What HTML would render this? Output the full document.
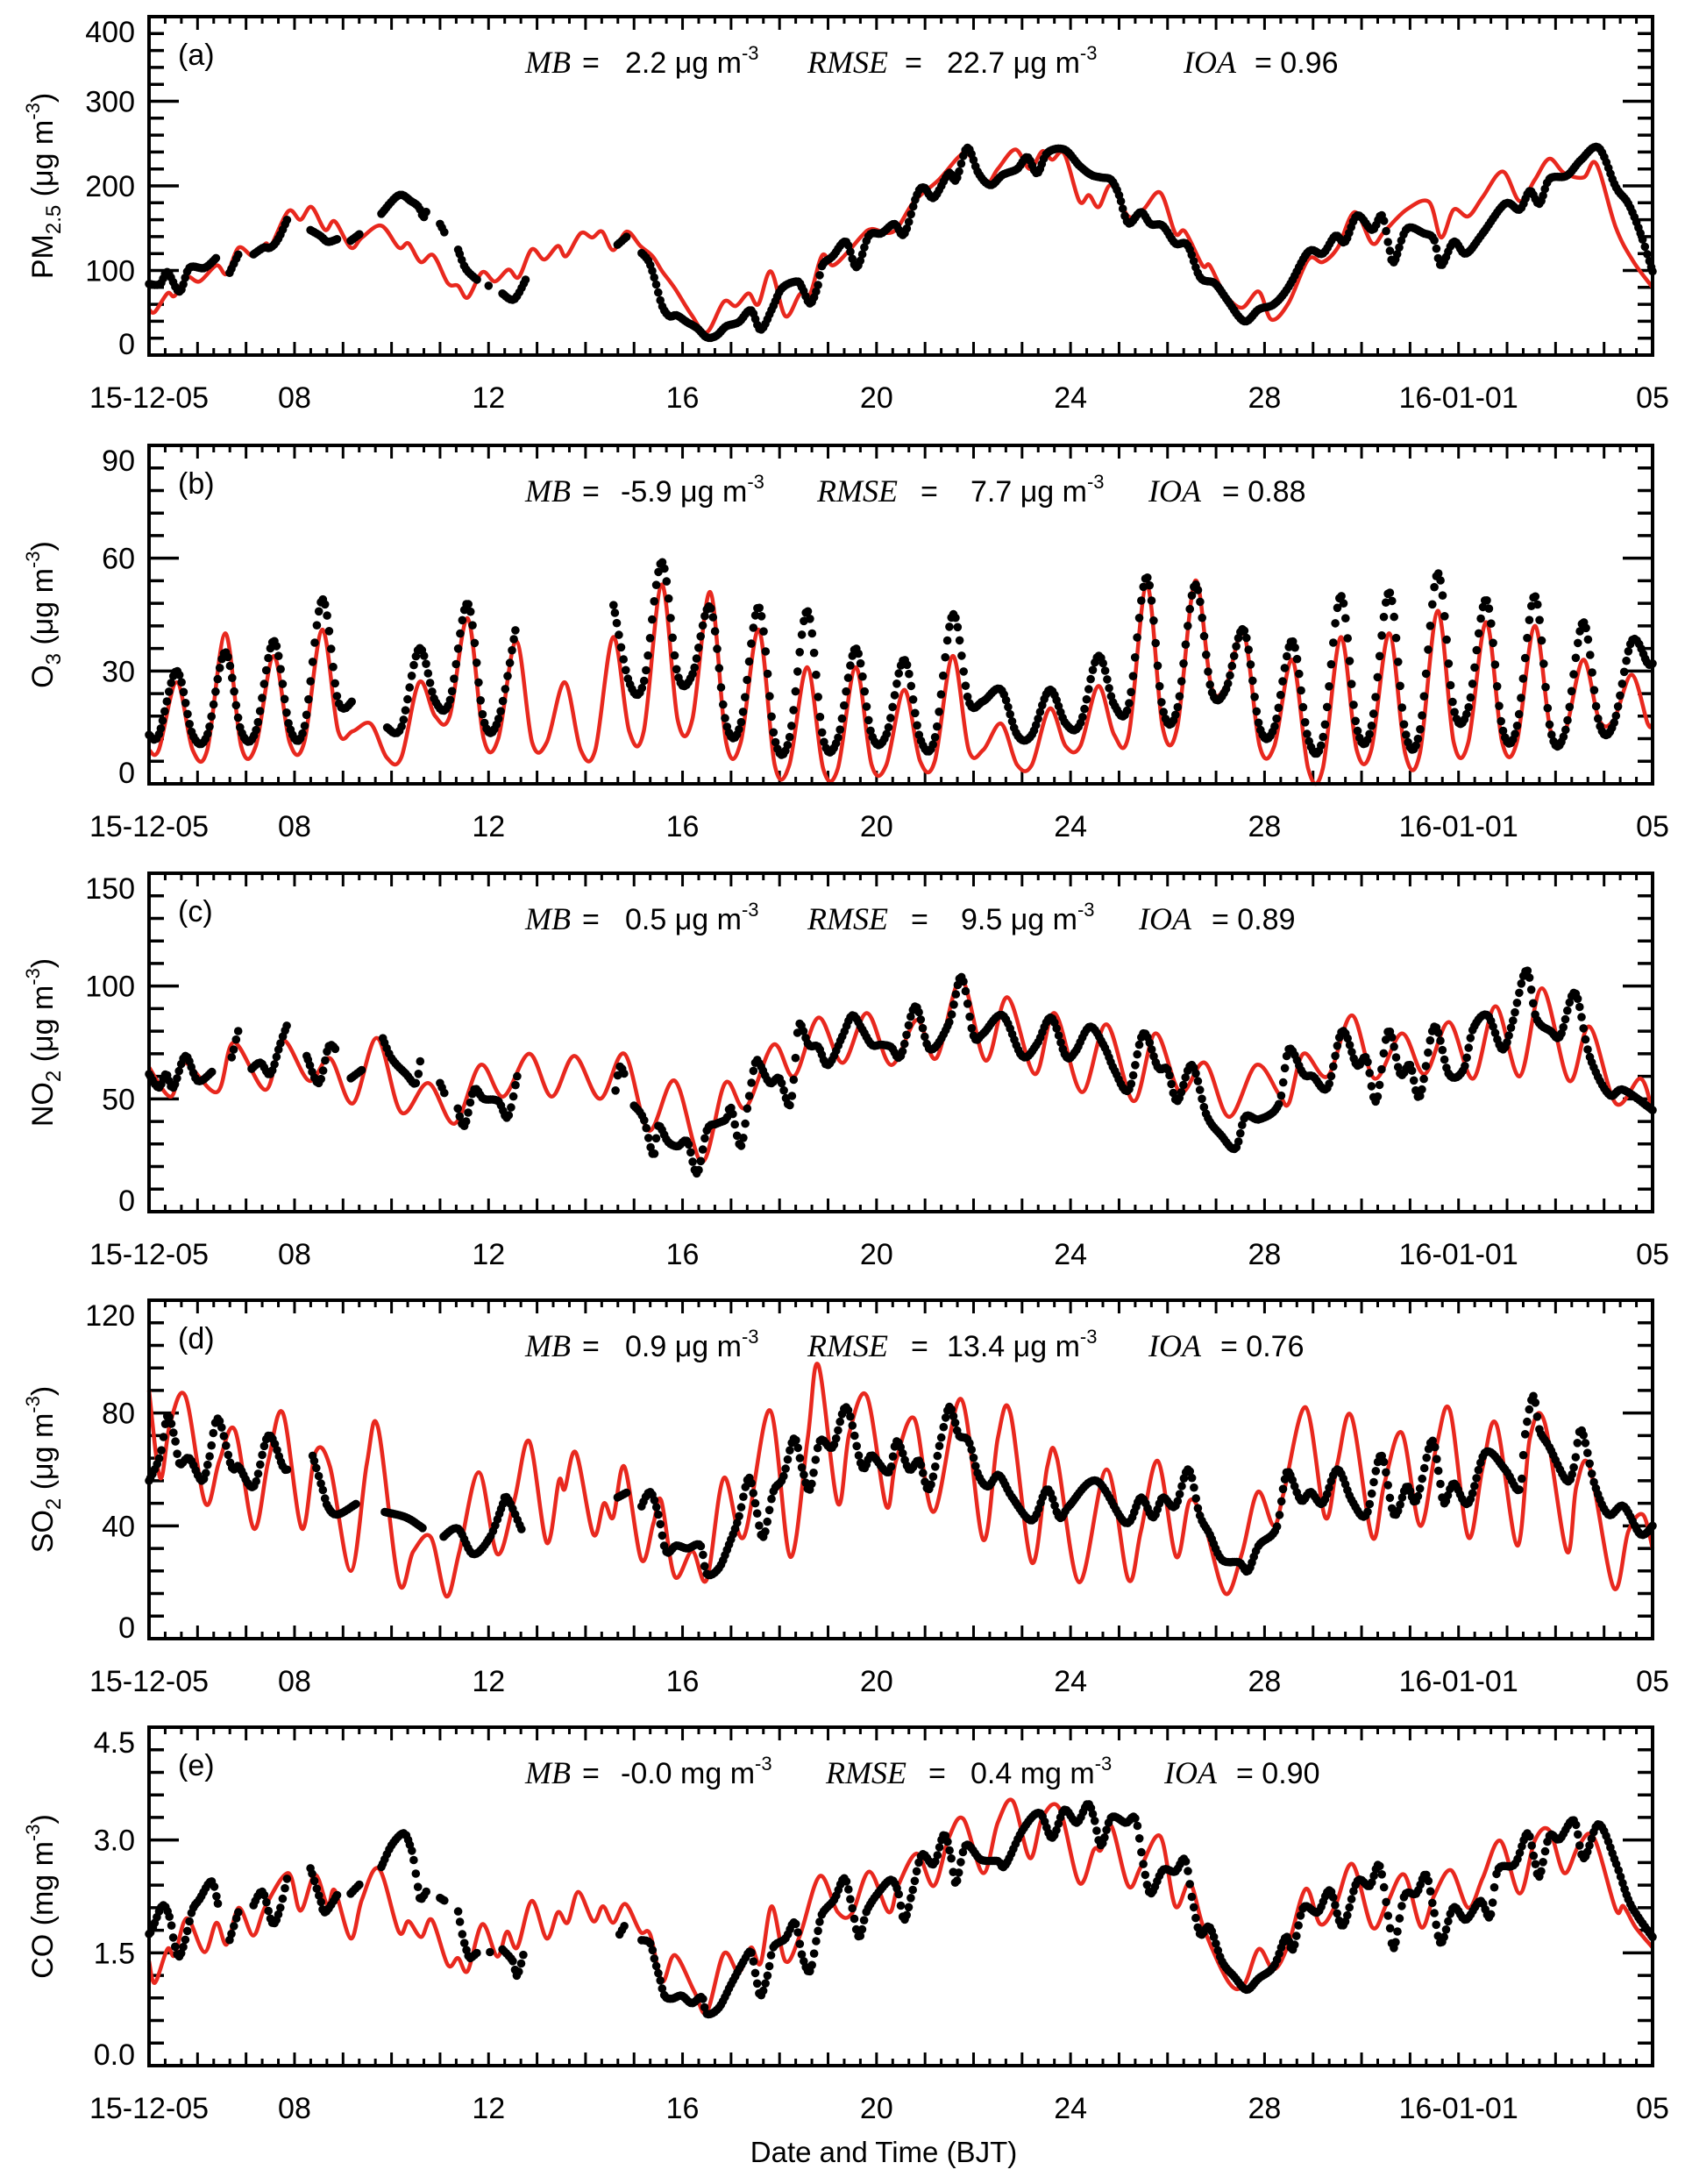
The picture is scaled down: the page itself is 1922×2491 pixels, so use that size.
<!DOCTYPE html>
<html>
<head>
<meta charset="utf-8">
<style>
  html,body{margin:0;padding:0;background:#fff;}
  svg{display:block;}
  text{font-family:"Liberation Sans",Arial,sans-serif;fill:#000;}
  .it{font-family:"Liberation Serif","Times New Roman",serif;font-style:italic;}
</style>
</head>
<body>
<svg id="chart" xmlns="http://www.w3.org/2000/svg" width="1922" height="2491" viewBox="0 0 1922 2491">
  <rect x="0" y="0" width="1922" height="2491" fill="#fff"/>
  <text x="1008" y="2466" font-size="33" text-anchor="middle">Date and Time (BJT)</text>
</svg>
<script>
// ---------------- data ----------------
const xTickLabels = ["15-12-05","08","12","16","20","24","28","16-01-01","05"];
const xTickDays = [0,3,7,11,15,19,23,27,31];

const pmModel = [[0,54],[0.12,51],[0.38,73],[0.53,70],[0.78,92],[1.04,87],[1.39,106],[1.6,96],[1.85,127],[2.15,117],[2.41,132],[2.5,127],[2.87,170],[3.12,160],[3.35,175],[3.63,148],[3.83,158],[4.16,127],[4.39,139],[4.79,153],[5.15,127],[5.35,132],[5.6,110],[5.86,118],[6.16,85],[6.37,82],[6.57,68],[6.87,98],[7.13,87],[7.41,101],[7.62,92],[7.89,125],[8.15,113],[8.43,129],[8.6,117],[8.9,144],[9.14,139],[9.34,146],[9.57,124],[9.85,146],[10.13,129],[10.38,117],[10.58,99],[10.84,79],[11.19,47],[11.5,27],[11.85,63],[12.1,58],[12.36,73],[12.56,60],[12.82,99],[13.12,46],[13.42,72],[13.63,72],[13.88,118],[14.1,106],[14.44,124],[14.7,141],[14.9,149],[15.35,146],[15.78,182],[16.28,207],[16.69,234],[16.89,238],[17.25,203],[17.5,220],[17.86,243],[18.16,220],[18.42,241],[18.62,231],[18.87,238],[19.18,182],[19.38,189],[19.58,175],[19.84,201],[20.19,164],[20.5,172],[20.85,192],[21.16,144],[21.36,146],[21.72,106],[21.87,106],[22.17,73],[22.53,56],[22.88,75],[23.14,42],[23.49,61],[23.9,113],[24.2,110],[24.51,127],[24.86,169],[25.22,132],[25.47,146],[25.93,172],[26.39,181],[26.64,139],[26.9,172],[27.2,164],[27.5,187],[27.91,217],[28.26,182],[28.57,207],[28.87,232],[29.18,215],[29.58,210],[29.84,226],[30.24,151],[30.6,111],[31,80]];
const pmObs = [[0,84],[0.23,84],[0.38,98],[0.63,75],[0.83,103],[1.14,103],[1.39,115],[1.5,null],[1.65,96],[1.85,120],[1.98,null],[2.13,118],[2.36,127],[2.5,127],[2.66,137],[2.87,163],[3.1,null],[3.32,148],[3.53,141],[3.68,134],[3.88,137],[4.0,null],[4.13,134],[4.34,143],[4.55,null],[4.79,167],[5.15,189],[5.4,182],[5.56,175],[5.66,163],[5.73,172],[5.85,null],[6.0,155],[6.1,144],[6.22,null],[6.37,125],[6.52,103],[6.72,91],[6.78,89],[6.9,null],[7.0,82],[7.1,null],[7.28,73],[7.53,66],[7.79,92],[7.9,null],[9.65,130],[9.87,141],[9.95,null],[10.13,122],[10.3,111],[10.43,89],[10.58,58],[10.73,46],[10.88,47],[11.09,39],[11.3,32],[11.5,21],[11.7,23],[11.9,34],[12.16,39],[12.41,53],[12.61,30],[12.84,54],[13.05,79],[13.36,87],[13.47,79],[13.63,61],[13.78,80],[13.88,106],[14.1,117],[14.37,134],[14.59,104],[14.84,141],[15.1,144],[15.37,155],[15.57,143],[15.83,189],[15.98,198],[16.18,186],[16.49,215],[16.64,207],[16.87,245],[17.1,215],[17.35,201],[17.6,213],[17.9,220],[18.11,234],[18.31,215],[18.52,239],[18.87,243],[19.18,224],[19.43,213],[19.63,210],[19.84,207],[20.0,189],[20.19,156],[20.45,169],[20.65,155],[20.9,153],[21.16,132],[21.41,130],[21.67,92],[21.97,85],[22.22,66],[22.58,40],[22.88,54],[23.19,60],[23.49,80],[23.9,122],[24.2,120],[24.46,141],[24.66,134],[24.91,165],[25.22,148],[25.42,165],[25.57,127],[25.67,110],[25.93,149],[26.28,144],[26.49,137],[26.64,106],[26.9,134],[27.15,120],[27.5,144],[27.96,179],[28.26,172],[28.47,194],[28.67,179],[28.87,208],[29.23,212],[29.53,231],[29.89,245],[30.24,199],[30.5,179],[30.75,144],[31,99]];

const o3ModelPeak = [27,40,34,41,16,27,44,38,27,39,53,51,41,31,31,25,34,16,20,26,53,54,40,33,39,40,46,43,42,33,29];
const o3ModelLow  = [9,9,10,11,14,7,18,12,11,9,14,17,11,5,4,5,6,9,5,10,13,15,26,10,4,9,8,11,11,14,17];
const o3ModelEnd = 16;
const o3ObsPeak = [30,35,38,49,null,36,48,42,null,48,59,47,47,46,36,33,45,25,25,34,55,53,41,38,50,51,56,49,50,43,38];
const o3ObsLow  = [13,13,14,15,22,15,22,17,null,null,27,29,16,12,12,13,12,22,13,16,21,20,25,15,12,15,14,20,15,14,16];
const o3ObsEnd = 32;

const no2Model = [[0,64],[0.45,51],[0.73,66],[1.4,53],[1.75,75],[2.4,54],[2.76,76],[3.3,58],[3.73,68],[4.2,48],[4.7,77],[5.2,44],[5.76,57],[6.3,39],[6.83,65],[7.3,51],[7.84,70],[8.3,51],[8.77,69],[9.3,50],[9.8,70],[10.3,36],[10.84,58],[11.4,22],[11.88,57],[12.3,46],[12.87,74],[13.3,60],[13.8,86],[14.3,66],[14.8,88],[15.3,65],[15.83,85],[16.23,68],[16.74,103],[17.25,67],[17.7,95],[18.26,61],[18.67,88],[19.23,53],[19.74,83],[20.3,49],[20.75,79],[21.26,53],[21.77,66],[22.27,42],[22.83,65],[23.3,52],[23.5,48],[23.8,70],[24.3,60],[24.8,87],[25.27,59],[25.83,79],[26.3,61],[26.8,84],[27.3,59],[27.76,91],[28.26,60],[28.72,99],[29.28,58],[29.7,82],[30.24,48],[30.75,59],[31,44]];
const no2Obs = [[0,61],[0.2,55],[0.35,61],[0.5,55],[0.75,69],[1.0,58],[1.3,62],[1.45,null],[1.7,68],[1.85,81],[1.95,null],[2.1,63],[2.3,66],[2.5,61],[2.7,74],[2.85,83],[3.0,null],[3.25,69],[3.5,57],[3.7,73],[3.85,72],[4.0,null],[4.15,59],[4.4,63],[4.6,null],[4.8,78],[5.0,68],[5.3,61],[5.5,57],[5.6,68],[5.8,null],[6.0,57],[6.1,52],[6.2,null],[6.35,47],[6.5,38],[6.7,54],[6.9,50],[7.2,49],[7.4,42],[7.6,61],[7.7,null],[9.6,51],[9.7,64],[9.8,61],[9.9,null],[10.0,47],[10.2,41],[10.4,25],[10.5,38],[10.7,31],[10.9,29],[11.1,31],[11.3,17],[11.5,36],[11.7,39],[11.9,41],[12.0,46],[12.2,29],[12.35,48],[12.5,66],[12.6,65],[12.8,57],[13.0,59],[13.2,47],[13.3,60],[13.4,83],[13.6,74],[13.8,73],[14.0,65],[14.3,78],[14.5,87],[14.7,81],[14.9,74],[15.1,74],[15.3,73],[15.5,69],[15.8,91],[16.1,72],[16.5,84],[16.75,104],[17.0,78],[17.2,79],[17.6,87],[18.0,69],[18.3,74],[18.6,86],[18.9,69],[19.1,71],[19.4,82],[19.7,73],[19.9,63],[20.2,54],[20.5,79],[20.8,64],[21.0,63],[21.2,49],[21.5,65],[21.8,43],[22.1,34],[22.4,28],[22.6,42],[22.9,41],[23.3,48],[23.5,72],[23.8,61],[24.0,60],[24.3,55],[24.6,80],[24.9,65],[25.1,68],[25.3,49],[25.55,80],[25.8,61],[26.0,65],[26.2,51],[26.5,82],[26.8,61],[27.1,63],[27.3,81],[27.6,87],[27.9,72],[28.1,83],[28.4,107],[28.6,86],[28.9,80],[29.1,78],[29.4,97],[29.7,69],[30.1,52],[30.4,54],[31,45]];

const so2Model = [[0,88],[0.23,57],[0.43,76],[0.75,86],[1.16,48],[1.45,63],[1.77,74],[2.16,39],[2.46,63],[2.76,80],[3.15,39],[3.43,66],[3.73,61],[4.16,24],[4.49,62],[4.72,75],[5.15,20],[5.45,31],[5.81,36],[6.13,15],[6.4,31],[6.8,59],[7.18,30],[7.53,49],[7.84,70],[8.2,34],[8.45,56],[8.57,53],[8.8,66],[9.16,37],[9.38,48],[9.57,43],[9.8,61],[10.15,28],[10.4,41],[10.56,49],[10.84,22],[11.2,31],[11.5,21],[11.85,57],[12.26,36],[12.8,81],[13.22,29],[13.58,71],[13.8,97],[14.2,48],[14.44,73],[14.8,86],[15.2,47],[15.4,63],[15.78,78],[16.18,45],[16.74,85],[17.2,35],[17.5,71],[17.76,80],[18.2,27],[18.52,61],[18.72,64],[19.18,20],[19.74,60],[20.19,21],[20.45,38],[20.8,63],[21.18,29],[21.46,49],[21.77,40],[22.19,16],[22.53,30],[22.86,52],[23.19,40],[23.4,52],[23.85,82],[24.25,43],[24.5,62],[24.79,79],[25.22,36],[25.47,55],[25.83,73],[26.21,40],[26.54,68],[26.82,81],[27.2,36],[27.5,61],[27.78,76],[28.21,33],[28.47,71],[28.77,77],[29.23,31],[29.43,54],[29.7,61],[30.2,18],[30.5,38],[30.8,44],[31,32]];
const so2Obs = [[0,56],[0.23,65],[0.38,79],[0.53,71],[0.63,62],[0.83,64],[1.09,56],[1.24,64],[1.42,78],[1.7,61],[1.85,61],[2.16,54],[2.46,72],[2.76,61],[2.86,60],[3.0,null],[3.37,65],[3.58,53],[3.68,47],[3.88,44],[4.29,48],[4.5,null],[4.84,45],[5.3,43],[5.66,39],[5.85,null],[6.06,36],[6.37,39],[6.68,30],[7.03,36],[7.28,47],[7.38,50],[7.7,38],[7.8,null],[9.65,50],[9.87,52],[9.95,null],[10.13,46],[10.33,52],[10.5,44],[10.66,31],[10.87,33],[11.1,32],[11.37,33],[11.5,23],[11.75,25],[11.95,33],[12.16,43],[12.36,57],[12.5,48],[12.66,36],[12.87,52],[13.07,57],[13.3,71],[13.47,60],[13.63,53],[13.83,70],[14.1,68],[14.38,82],[14.7,61],[14.9,65],[15.25,59],[15.42,70],[15.67,60],[15.88,63],[16.08,53],[16.33,71],[16.49,82],[16.6,78],[16.7,72],[16.9,70],[17.1,58],[17.3,54],[17.52,58],[17.8,50],[18.21,42],[18.52,53],[18.77,43],[18.97,47],[19.53,56],[20.14,41],[20.45,50],[20.7,43],[20.9,50],[21.16,47],[21.43,60],[21.66,44],[21.87,37],[22.12,28],[22.48,27],[22.66,24],[22.88,33],[23.24,39],[23.4,55],[23.5,59],[23.75,49],[23.95,52],[24.2,48],[24.5,60],[24.8,49],[25.1,44],[25.4,65],[25.67,44],[25.93,54],[26.13,49],[26.44,70],[26.59,59],[26.7,48],[26.9,55],[27.2,48],[27.55,66],[27.96,60],[28.26,53],[28.37,72],[28.54,86],[28.67,74],[28.87,68],[29.23,56],[29.38,61],[29.53,74],[29.8,55],[30.09,44],[30.4,47],[30.75,37],[31,40]];

const coModel = [[0,1.39],[0.12,1.10],[0.38,1.55],[0.53,1.47],[0.78,1.96],[1.14,1.51],[1.39,1.90],[1.6,1.61],[1.85,2.10],[2.15,1.73],[2.4,2.12],[2.87,2.56],[3.12,2.06],[3.42,2.54],[3.68,2.13],[3.83,2.33],[4.16,1.69],[4.39,2.21],[4.74,2.62],[5.15,1.78],[5.35,1.92],[5.61,1.71],[5.83,1.94],[6.16,1.34],[6.37,1.43],[6.57,1.26],[6.87,1.88],[7.18,1.45],[7.38,1.78],[7.59,1.57],[7.89,2.19],[8.2,1.69],[8.43,2.04],[8.63,1.90],[8.85,2.31],[9.16,1.92],[9.36,2.12],[9.57,1.90],[9.82,2.15],[10.13,1.78],[10.33,1.75],[10.58,1.12],[10.84,1.47],[11.24,0.99],[11.5,0.71],[11.85,1.49],[12.16,1.24],[12.41,1.57],[12.61,1.36],[12.84,2.12],[13.12,1.39],[13.42,1.73],[13.83,2.52],[14.2,2.04],[14.49,2.02],[14.85,2.58],[15.25,2.04],[15.45,2.4],[15.83,2.82],[16.18,2.39],[16.49,3.03],[16.79,3.28],[17.2,2.56],[17.5,3.23],[17.81,3.52],[18.16,2.76],[18.42,3.30],[18.77,3.42],[19.18,2.43],[19.48,2.87],[19.63,2.87],[19.84,3.19],[20.19,2.39],[20.45,2.64],[20.85,3.05],[21.16,2.12],[21.46,2.43],[21.75,1.82],[22.27,1.10],[22.58,1.08],[22.88,1.55],[23.19,1.28],[23.49,1.61],[23.85,2.35],[24.15,1.88],[24.46,2.13],[24.81,2.68],[25.22,1.84],[25.52,2.15],[25.88,2.54],[26.23,1.84],[26.49,2.25],[26.84,2.60],[27.2,2.10],[27.5,2.50],[27.86,2.99],[28.26,2.29],[28.57,2.99],[28.87,3.13],[29.18,2.56],[29.48,2.93],[29.79,3.03],[30.24,2.08],[30.4,2.12],[30.65,1.84],[31,1.57]];
const coObs = [[0,1.75],[0.07,1.82],[0.28,2.13],[0.43,1.96],[0.51,1.67],[0.61,1.45],[0.73,1.63],[0.89,2.06],[1.04,2.21],[1.29,2.45],[1.42,2.15],[1.52,null],[1.65,1.65],[1.85,2.06],[1.98,null],[2.13,2.10],[2.34,2.31],[2.54,1.90],[2.69,2.06],[2.87,2.56],[3.1,null],[3.32,2.64],[3.53,2.21],[3.63,2.04],[3.88,2.27],[4.0,null],[4.13,2.27],[4.34,2.41],[4.55,null],[4.79,2.64],[5.0,2.93],[5.25,3.09],[5.38,2.93],[5.45,2.76],[5.55,2.35],[5.6,2.21],[5.73,2.33],[5.85,null],[6.0,2.23],[6.1,2.19],[6.22,null],[6.37,2.06],[6.47,1.71],[6.57,1.49],[6.62,1.43],[6.78,1.51],[6.9,null],[7.03,1.51],[7.1,null],[7.28,1.55],[7.5,1.39],[7.59,1.20],[7.74,1.53],[7.85,null],[9.67,1.71],[9.82,1.88],[9.95,null],[10.13,1.67],[10.33,1.63],[10.43,1.39],[10.53,1.16],[10.63,0.93],[10.78,0.89],[10.98,0.93],[11.19,0.83],[11.4,0.91],[11.5,0.69],[11.75,0.77],[12.0,1.08],[12.26,1.39],[12.41,1.51],[12.51,1.20],[12.61,0.93],[12.76,1.22],[12.87,1.57],[13.12,1.69],[13.32,1.90],[13.47,1.45],[13.63,1.26],[13.78,1.75],[13.88,2.02],[14.13,2.21],[14.34,2.49],[14.49,2.12],[14.64,1.71],[14.8,2.06],[15.05,2.31],[15.3,2.47],[15.45,2.3],[15.57,1.94],[15.73,2.29],[15.93,2.80],[16.18,2.68],[16.39,3.07],[16.54,2.76],[16.64,2.43],[16.84,2.93],[17.15,2.74],[17.5,2.72],[17.65,2.66],[18.01,3.13],[18.36,3.36],[18.62,3.03],[18.87,3.40],[19.13,3.23],[19.35,3.48],[19.48,3.30],[19.63,2.93],[19.84,3.30],[20.14,3.23],[20.34,3.28],[20.5,2.68],[20.65,2.29],[20.9,2.60],[21.16,2.58],[21.36,2.74],[21.51,2.21],[21.67,1.75],[21.87,1.84],[22.12,1.39],[22.38,1.18],[22.63,1.01],[22.88,1.16],[23.19,1.32],[23.44,1.71],[23.59,1.55],[23.8,2.10],[24.1,2.04],[24.35,2.33],[24.61,1.86],[24.91,2.45],[25.17,2.39],[25.37,2.66],[25.57,1.90],[25.67,1.57],[25.88,2.25],[26.13,2.29],[26.33,2.54],[26.49,2.06],[26.64,1.63],[26.89,2.10],[27.15,1.94],[27.45,2.19],[27.65,1.98],[27.81,2.60],[28.16,2.68],[28.42,3.09],[28.57,2.72],[28.67,2.52],[28.87,3.05],[29.08,3.01],[29.38,3.26],[29.58,2.76],[29.89,3.21],[30.24,2.70],[30.5,2.21],[30.7,1.98],[31,1.71]];

const statsMB   = ["2.2 \u03bcg m","-5.9 \u03bcg m","0.5 \u03bcg m","0.9 \u03bcg m","-0.0 mg m"];
const statsRMSE = ["22.7 \u03bcg m","7.7 \u03bcg m","9.5 \u03bcg m","13.4 \u03bcg m","0.4 mg m"];
const statsIOA  = ["0.96","0.88","0.89","0.76","0.90"];

// ---------------- layout ----------------
const NS = "http://www.w3.org/2000/svg";
const svg = document.getElementById("chart");
const L = 170, R = 1885, H = 386, NDAYS = 31;
function xScale(t){ return L + (R - L) * t / NDAYS; }

function mk(tag, attrs, parent){
  const e = document.createElementNS(NS, tag);
  for (const k in attrs) e.setAttribute(k, attrs[k]);
  (parent || svg).appendChild(e);
  return e;
}

function dailyKnots(lows, peaks, endVal){
  const out = [[0, lows[0]]];
  for (let d = 0; d < 31; d++){
    const nextLow = d < 30 ? lows[d+1] : endVal;
    out.push([d + 0.2, lows[d]]);
    out.push([d + 0.57, peaks[d]]);
    out.push([d + 0.9, nextLow]);
  }
  out.push([31, endVal]);
  return out;
}

function segmentsOf(pairs){
  const segs = []; let cur = [];
  for (const p of pairs){
    if (p[1] === null || p[1] === undefined){ if (cur.length) segs.push(cur); cur = []; }
    else cur.push(p);
  }
  if (cur.length) segs.push(cur);
  return segs;
}

function ctrl(pts, i){
  const p0 = pts[i-1] || pts[i], p1 = pts[i], p2 = pts[i+1], p3 = pts[i+2] || pts[i+1];
  return [p1, [p1[0] + (p2[0]-p0[0])/6, p1[1] + (p2[1]-p0[1])/6], [p2[0] - (p3[0]-p1[0])/6, p2[1] - (p3[1]-p1[1])/6], p2];
}

function smoothPath(pts){
  if (pts.length === 1) return "";
  let d = "M" + pts[0][0].toFixed(1) + "," + pts[0][1].toFixed(1);
  for (let i = 0; i < pts.length - 1; i++){
    const c = ctrl(pts, i);
    d += " C" + c[1][0].toFixed(1)+","+c[1][1].toFixed(1)+" "+c[2][0].toFixed(1)+","+c[2][1].toFixed(1)+" "+c[3][0].toFixed(1)+","+c[3][1].toFixed(1);
  }
  return d;
}

function bez(c, u){
  const a = 1-u;
  return [a*a*a*c[0][0] + 3*a*a*u*c[1][0] + 3*a*u*u*c[2][0] + u*u*u*c[3][0],
          a*a*a*c[0][1] + 3*a*a*u*c[1][1] + 3*a*u*u*c[2][1] + u*u*u*c[3][1]];
}

function hourlyDots(seg, pts){
  const out = [];
  if (pts.length === 1) return [pts[0]];
  for (let i = 0; i < pts.length - 1; i++){
    const c = ctrl(pts, i);
    const t1 = seg[i][0], t2 = seg[i+1][0];
    let h = Math.ceil(t1 * 24 - 1e-6);
    while (h / 24 < t2 - 1e-6 || (i === pts.length - 2 && h / 24 <= t2 + 1e-6)){
      const u = (h / 24 - t1) / (t2 - t1);
      if (u > 1) break;
      out.push(bez(c, Math.max(0, u)));
      h++;
    }
  }
  return out;
}

const panels = [
  {key:"pm25", letter:"(a)", top:19,   max:400, major:100, minor:20,  fmt:v=>String(v), model:pmModel, obs:pmObs,
   ylab:[["PM",0],["2.5",1],[" (\u03bcg m",0],["-3",2],[")",0]],
   pos:[599,664,713,921,1032,1080,1350,1431]},
  {key:"o3", letter:"(b)", top:508,  max:90,  major:30,  minor:6,   fmt:v=>String(v), model:dailyKnots(o3ModelLow,o3ModelPeak,o3ModelEnd), obs:dailyKnots(o3ObsLow,o3ObsPeak,o3ObsEnd),
   ylab:[["O",0],["3",1],[" (\u03bcg m",0],["-3",2],[")",0]],
   pos:[599,664,708,932,1050,1107,1310,1394]},
  {key:"no2", letter:"(c)", top:996,  max:150, major:50,  minor:10,  fmt:v=>String(v), model:no2Model, obs:no2Obs,
   ylab:[["NO",0],["2",1],[" (\u03bcg m",0],["-3",2],[")",0]],
   pos:[599,664,713,921,1039,1096,1299,1382]},
  {key:"so2", letter:"(d)", top:1483, max:120, major:40,  minor:8,   fmt:v=>String(v), model:so2Model, obs:so2Obs,
   ylab:[["SO",0],["2",1],[" (\u03bcg m",0],["-3",2],[")",0]],
   pos:[599,664,713,921,1039,1080,1310,1392]},
  {key:"co", letter:"(e)", top:1970, max:4.5, major:1.5, minor:0.3, fmt:v=>v.toFixed(1), model:coModel, obs:coObs,
   ylab:[["CO (mg m",0],["-3",2],[")",0]],
   pos:[599,664,708,942,1059,1107,1328,1410]}
];

panels.forEach((p, pi) => {
  const top = p.top, bot = top + H;
  const yScale = v => bot - H * v / p.max;
  const g = mk("g", {});
  
  

  const cp = mk("clipPath", {id: "clip" + pi}, g);
  mk("rect", {x: L - 6, y: top - 6, width: R - L + 12, height: H + 12}, cp);

  const nMinor = Math.round(p.max / p.minor);
  for (let i = 0; i <= nMinor; i++){
    const v = i * p.minor;
    const isMajor = Math.abs((v / p.major) - Math.round(v / p.major)) < 1e-6;
    const len = isMajor ? 34 : 17;
    const y = yScale(v);
    const t1 = mk("line", {x1: L, x2: L + len, y1: y, y2: y, stroke: "#000", "stroke-width": 3.5}, g);
    
    
    const t2 = mk("line", {x1: R, x2: R - len, y1: y, y2: y, stroke: "#000", "stroke-width": 3.5}, g);
    
    
    if (isMajor){
      let cy = y;
      if (i === 0) cy -= 13;
      if (i === nMinor) cy += 17;
      const lab = mk("text", {x: 154, y: cy + 12, "font-size": 34, "text-anchor": "end"}, g);
      lab.textContent = p.fmt(Math.round(v * 10) / 10);
      
      
    }
  }
  for (let k = 0; k <= NDAYS * 3; k++){
    const t = k / 3;
    const x = xScale(t);
    const len = (k % 3 === 0) ? 15 : 8;
    const b1 = mk("line", {x1: x, x2: x, y1: bot, y2: bot - len, stroke: "#000", "stroke-width": 3}, g);
    
    
    const b2 = mk("line", {x1: x, x2: x, y1: top, y2: top + len, stroke: "#000", "stroke-width": 3}, g);
    
    
  }
  xTickLabels.forEach((lbl, i) => {
    const tx = mk("text", {x: xScale(xTickDays[i]), y: bot + 60, "font-size": 34, "text-anchor": "middle"}, g);
    tx.textContent = lbl;
    
    
  });

  const mg = mk("g", {"clip-path": "url(#clip" + pi + ")"}, g);
  segmentsOf(p.model).forEach(seg => {
    const pts = seg.map(q => [xScale(q[0]), yScale(q[1])]);
    const path = mk("path", {d: smoothPath(pts), fill: "none", stroke: "#e8281e", "stroke-width": 4.5, "stroke-linejoin": "round"}, mg);
    
    
  });
  segmentsOf(p.obs).forEach(seg => {
    const pts = seg.map(q => [xScale(q[0]), yScale(q[1])]);
    const og = mk("g", {fill: "#000"}, mg);
    
    
    hourlyDots(seg, pts).forEach(pt => {
      const c = mk("circle", {cx: pt[0].toFixed(1), cy: pt[1].toFixed(1), r: 4.8}, og);
      
      
    });
  });

  const fr = mk("rect", {x: L, y: top, width: R - L, height: H, fill: "none", stroke: "#000", "stroke-width": 4}, g);
  
  

  const pl = mk("text", {x: 203, y: top + 55, "font-size": 34}, g);
  pl.textContent = p.letter;
  
  

  const sy = top + 64, P = p.pos;
  const st = mk("g", {}, g);
  
  
  function txt(x, s, cls, size){
    const e = mk("text", {x: x, y: sy, "font-size": size || 34}, st);
    if (cls) e.setAttribute("class", cls);
    e.textContent = s;
    return e;
  }
  function valWithSup(x, s){
    const e = mk("text", {x: x, y: sy, "font-size": 34}, st);
    const a = document.createElementNS(NS, "tspan"); a.textContent = s; e.appendChild(a);
    const b = document.createElementNS(NS, "tspan"); b.textContent = "-3"; b.setAttribute("font-size", 22); b.setAttribute("dy", -15); e.appendChild(b);
    return e;
  }
  txt(P[0], "MB", "it", 36);
  txt(P[1], "=");
  valWithSup(P[2], statsMB[pi]);
  txt(P[3], "RMSE", "it", 36);
  txt(P[4], "=");
  valWithSup(P[5], statsRMSE[pi]);
  txt(P[6], "IOA", "it", 36);
  txt(P[7], "= " + statsIOA[pi]);

  const cy = top + H / 2;
  const yt = mk("text", {x: 0, y: 0, "font-size": 34, "text-anchor": "middle", transform: "translate(60," + cy + ") rotate(-90)"}, g);
  
  
  let prev = 0;
  p.ylab.forEach(part => {
    const ts = document.createElementNS(NS, "tspan");
    ts.textContent = part[0];
    let target = 0;
    if (part[1] === 1){ ts.setAttribute("font-size", 24); target = 9; }
    if (part[1] === 2){ ts.setAttribute("font-size", 22); target = -15; }
    ts.setAttribute("dy", target - prev);
    prev = target;
    yt.appendChild(ts);
  });
});
</script>
</body>
</html>
